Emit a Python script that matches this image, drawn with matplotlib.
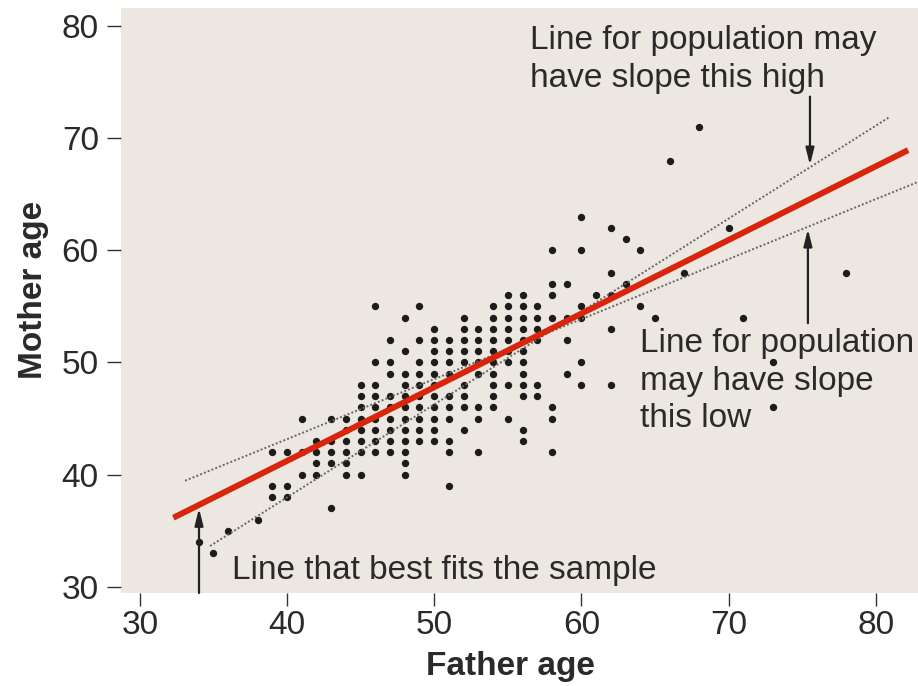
import matplotlib
matplotlib.use("Agg")
import matplotlib.pyplot as plt

plt.rcParams['font.family'] = ['Liberation Sans', 'DejaVu Sans']

# father age -> mother ages seen at that father age (one dot each)
father_cols = {
    34: [34],
    35: [33],
    36: [35],
    38: [36],
    39: [42, 39, 38],
    40: [42, 39, 38],
    41: [45, 42, 40],
    42: [43, 42, 41, 40],
    43: [45, 43, 42, 41, 37],
    44: [45, 44, 43, 42, 41, 40],
    45: [48, 47, 46, 45, 44, 43, 42, 40],
    46: [55, 50, 48, 47, 46, 45, 44, 43, 42],
    47: [52, 50, 49, 47, 46, 45, 44, 43, 42],
    48: [54, 51, 49, 48, 47, 46, 45, 44, 43, 42, 41, 40],
    49: [55, 52, 50, 49, 48, 47, 46, 45, 44, 43],
    50: [53, 52, 51, 50, 49, 48, 47, 46, 45, 44, 43],
    51: [52, 51, 50, 49, 47, 46, 45, 43, 42, 39],
    52: [54, 53, 52, 51, 50, 48, 47, 46, 44],
    53: [53, 52, 51, 50, 49, 46, 45, 42],
    54: [55, 54, 53, 52, 51, 50, 49, 48, 47, 46],
    55: [56, 55, 54, 53, 52, 51, 50, 48, 45],
    56: [56, 55, 54, 53, 52, 51, 50, 49, 48, 47, 44, 43],
    57: [55, 54, 53, 52, 48, 47],
    58: [60, 57, 56, 54, 46, 45, 42],
    59: [57, 54, 52, 49],
    60: [63, 60, 55, 54, 50, 48],
    61: [56],
    62: [62, 58, 56, 53, 48],
    63: [61, 57],
    64: [60, 55],
    65: [54],
    66: [68],
    67: [58],
    68: [71],
    70: [62],
    71: [54],
    73: [50, 46],
    78: [58],
}
father_age = [f for f, ms in father_cols.items() for m in ms]
mother_age = [m for f, ms in father_cols.items() for m in ms]

# lines: (x0, x1), (y0, y1)
fit_x, fit_y = [32.28, 82.2], [36.16, 68.93]
high_x, high_y = [34.77, 80.96], [33.64, 71.9]
low_x, low_y = [33.07, 84.0], [39.46, 66.7]

ticks = [30, 40, 50, 60, 70, 80]

fig = plt.figure(figsize=(9.18, 6.86), dpi=100)
ax = fig.add_axes([121 / 918, 1 - 593 / 686, 797 / 918, 585 / 686])
ax.set_facecolor('#ece8e1')
ax.set_xlim(28.72, 82.87)
ax.set_ylim(29.45, 81.6)

ax.scatter(father_age, mother_age, s=28, color='#1c1c1c', linewidths=0, zorder=2)

ax.plot(high_x, high_y, color='#666666', lw=1.4, ls=(0, (1, 1.1)), zorder=3)
ax.plot(low_x, low_y, color='#666666', lw=1.4, ls=(0, (1, 1.1)), zorder=3)
ax.plot(fit_x, fit_y, color='#d8260c', lw=4.3, solid_capstyle='butt', zorder=4)

arrow = dict(arrowstyle='-|>,head_length=1.0,head_width=0.25', color='#222222',
             lw=1.6, shrinkA=0, shrinkB=0)
ax.annotate('', xy=(75.53, 67.6), xytext=(75.53, 73.7), arrowprops=arrow, zorder=5)
ax.annotate('', xy=(75.39, 61.9), xytext=(75.39, 53.5), arrowprops=arrow, zorder=5)
ax.annotate('', xy=(34.02, 37.0), xytext=(34.02, 29.45), arrowprops=arrow, zorder=5,
            annotation_clip=False)

# va='baseline' puts the last line's baseline at y
txt = dict(fontsize=24, color='#2a2a2a', ha='left', va='baseline', linespacing=1.27, zorder=6)
ax.text(56.51, 74.58, 'Line for population may\nhave slope this high', **txt)
ax.text(63.95, 44.22, 'Line for population\nmay have slope\nthis low', **txt)
ax.text(36.27, 30.67, 'Line that best fits the sample', **txt)

for s in ax.spines.values():
    s.set_color('none')
ax.set_xticks(ticks)
ax.set_yticks(ticks)
ax.tick_params(axis='both', labelsize=24, colors='#333333', labelcolor='#2a2a2a', width=1.0)
ax.tick_params(axis='x', length=9.5, pad=3)
ax.tick_params(axis='y', length=10, pad=6)

fig.text(510 / 918, 1 - 667 / 686, 'Father age', fontsize=24, fontweight='bold',
         color='#2a2a2a', ha='center', va='center')
fig.text(34 / 918, 1 - 290 / 686, 'Mother age', fontsize=24, fontweight='bold',
         color='#2a2a2a', ha='center', va='center', rotation=90)

fig.savefig('out.png', dpi=100)
